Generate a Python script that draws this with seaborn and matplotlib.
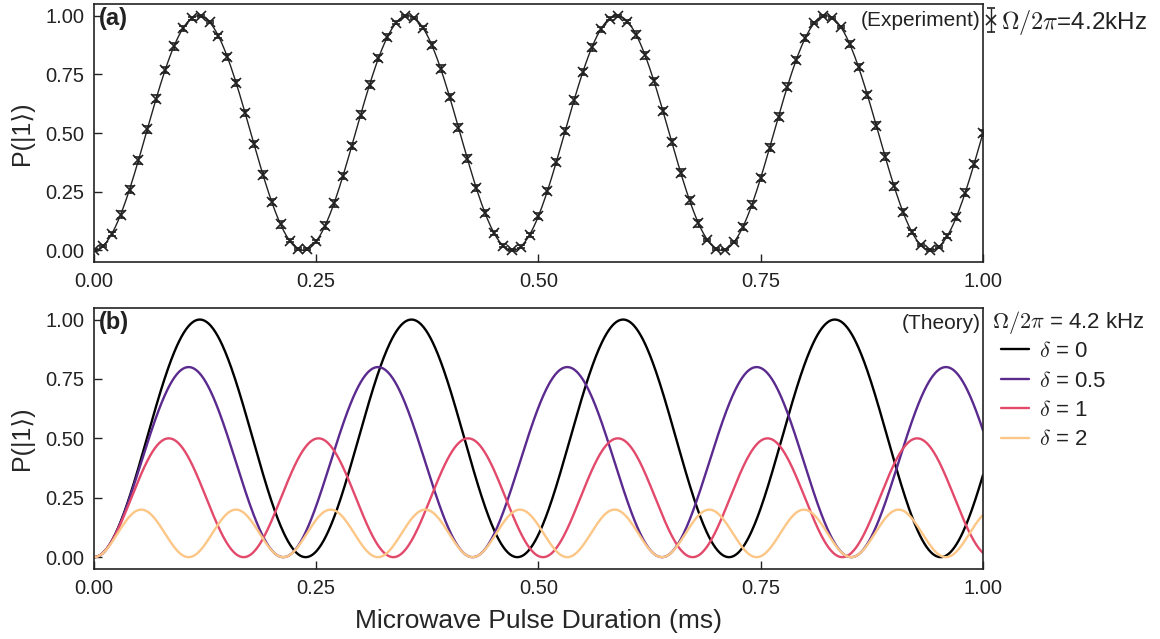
import numpy as np
import pandas as pd
import matplotlib
matplotlib.use("Agg")
import matplotlib.pyplot as plt
import seaborn as sns

# ---- measured Rabi oscillation (pulse duration in ms, excited-state population) ----
pulse_ms = np.round(np.linspace(0.0, 1.0, 101), 2)
p_meas = [
    0.000, 0.018, 0.070, 0.152, 0.259, 0.383, 0.516, 0.647, 0.768, 0.870,
    0.946, 0.989, 0.999, 0.973, 0.914, 0.825, 0.713, 0.586, 0.453, 0.323,
    0.206, 0.110, 0.041, 0.005, 0.004, 0.038, 0.105, 0.200, 0.316, 0.445,
    0.578, 0.706, 0.819, 0.909, 0.971, 0.999, 0.991, 0.949, 0.875, 0.775,
    0.654, 0.523, 0.391, 0.266, 0.158, 0.074, 0.020, 0.000, 0.016, 0.066,
    0.146, 0.252, 0.376, 0.508, 0.639, 0.761, 0.865, 0.942, 0.988, 0.999,
    0.975, 0.919, 0.831, 0.720, 0.594, 0.461, 0.331, 0.213, 0.115, 0.044,
    0.006, 0.003, 0.035, 0.100, 0.194, 0.309, 0.438, 0.570, 0.698, 0.812,
    0.905, 0.968, 0.998, 0.992, 0.953, 0.880, 0.781, 0.662, 0.531, 0.399,
    0.273, 0.164, 0.078, 0.022, 0.000, 0.014, 0.062, 0.141, 0.246, 0.368,
    0.500,
]
p_err = [
    0.004, 0.005, 0.009, 0.014, 0.014, 0.014, 0.014, 0.014, 0.014, 0.014,
    0.010, 0.005, 0.004, 0.005, 0.010, 0.014, 0.014, 0.014, 0.014, 0.014,
    0.014, 0.014, 0.006, 0.004, 0.004, 0.006, 0.014, 0.014, 0.014, 0.014,
    0.014, 0.014, 0.014, 0.014, 0.005, 0.004, 0.004, 0.006, 0.014, 0.014,
    0.014, 0.014, 0.014, 0.014, 0.014, 0.009, 0.005, 0.004, 0.005, 0.009,
    0.014, 0.014, 0.014, 0.014, 0.014, 0.014, 0.014, 0.010, 0.005, 0.004,
    0.005, 0.014, 0.014, 0.014, 0.014, 0.014, 0.014, 0.014, 0.014, 0.006,
    0.004, 0.004, 0.006, 0.012, 0.014, 0.014, 0.014, 0.014, 0.014, 0.014,
    0.014, 0.005, 0.004, 0.004, 0.005, 0.014, 0.014, 0.014, 0.014, 0.014,
    0.014, 0.014, 0.009, 0.005, 0.004, 0.005, 0.009, 0.014, 0.014, 0.014,
    0.014,
]

# fitted Rabi frequency for the measured data (kHz) and its legend text
fit_freq_khz = 4.25
exp_label = r"$\Omega/2\pi$=4.2kHz"

# ---- theory: Rabi frequency and detunings (in units of Omega) ----
rabi_freq_khz = 4.2
detunings = [0, 0.5, 1, 2]
detuning_labels = [r"$\delta$ = 0", r"$\delta$ = 0.5", r"$\delta$ = 1", r"$\delta$ = 2"]
detuning_colors = ["#000000", "#5a2a8f", "#e2496b", "#fcc686"]
theory_title = r"$\Omega/2\pi$ = 4.2 kHz"

x_ticks = [0.00, 0.25, 0.50, 0.75, 1.00]
y_ticks = [0.00, 0.25, 0.50, 0.75, 1.00]


def rabi(t_ms, f_khz, delta):
    g = np.sqrt(1.0 + delta ** 2)
    return np.sin(np.pi * f_khz * g * t_ms) ** 2 / g ** 2


sns.set_theme(style="ticks")
plt.rcParams["font.family"] = ["Liberation Sans", "DejaVu Sans"]
plt.rcParams["mathtext.fontset"] = "cm"
plt.rcParams["axes.edgecolor"] = "#222222"
plt.rcParams["axes.linewidth"] = 1.2
plt.rcParams["text.color"] = "#222222"
plt.rcParams["xtick.color"] = "#222222"
plt.rcParams["ytick.color"] = "#222222"

fig = plt.figure(figsize=(11.6, 6.39), dpi=100)
ax_a = fig.add_axes([0.0810, 0.5900, 0.7664, 0.4037])
ax_b = fig.add_axes([0.0810, 0.1095, 0.7664, 0.4090])

t_fine = np.linspace(0.0, 1.0, 1200)

# ---- panel (a): measurement with fitted curve ----
fit_df = pd.DataFrame({"t": t_fine, "P": rabi(t_fine, fit_freq_khz, 0.0)})
sns.lineplot(data=fit_df, x="t", y="P", ax=ax_a, color="#222222", lw=1.0)
ax_a.errorbar(pulse_ms, p_meas, yerr=p_err, fmt="x", color="#222222",
              ms=6.5, mew=1.2, elinewidth=1.0, capsize=3.2, capthick=1.0,
              label=exp_label, zorder=3)
ax_a.legend(loc="upper left", bbox_to_anchor=(1.0, 1.0), frameon=False,
            fontsize=17.5, handlelength=0.35, handletextpad=0.25,
            borderaxespad=0.1, borderpad=0.05)
ax_a.text(0.997, 0.935, "(Experiment)", transform=ax_a.transAxes,
          ha="right", va="center", fontsize=15)
ax_a.text(0.006, 0.945, "(a)", transform=ax_a.transAxes,
          ha="left", va="center", fontsize=17, fontweight="bold")

# ---- panel (b): theory for several detunings ----
theory_df = pd.concat(
    [pd.DataFrame({"t": t_fine, "P": rabi(t_fine, rabi_freq_khz, d), "curve": lab})
     for d, lab in zip(detunings, detuning_labels)],
    ignore_index=True,
)
sns.lineplot(data=theory_df, x="t", y="P", hue="curve", hue_order=detuning_labels,
             palette=detuning_colors, ax=ax_b, lw=1.7)
handles, labels = ax_b.get_legend_handles_labels()
ax_b.legend(handles, labels, loc="upper left",
            bbox_to_anchor=(1.02, 0.872), frameon=False, fontsize=16,
            handlelength=1.25, handletextpad=0.45,
            labelspacing=0.38, borderaxespad=0.0, borderpad=0.0)
ax_b.text(1.010, 0.945, theory_title, transform=ax_b.transAxes,
          ha="left", va="center", fontsize=16)
ax_b.text(0.997, 0.94, "(Theory)", transform=ax_b.transAxes,
          ha="right", va="center", fontsize=15)
ax_b.text(0.006, 0.945, "(b)", transform=ax_b.transAxes,
          ha="left", va="center", fontsize=17, fontweight="bold")

for ax in (ax_a, ax_b):
    ax.set_xlim(0.0, 1.0)
    ax.set_ylim(-0.05, 1.05)
    ax.set_xticks(x_ticks)
    ax.set_yticks(y_ticks)
    ax.set_xticklabels([f"{v:.2f}" for v in x_ticks])
    ax.set_yticklabels([f"{v:.2f}" for v in y_ticks])
    ax.tick_params(direction="in", length=6, width=1.0, labelsize=14.5, pad=7)
    ax.set_ylabel("P(|1⟩)", fontsize=18, labelpad=8)
    ax.set_xlabel("")

ax_b.set_xlabel("Microwave Pulse Duration (ms)", fontsize=19, labelpad=8)

fig.savefig("out.png", dpi=100)
